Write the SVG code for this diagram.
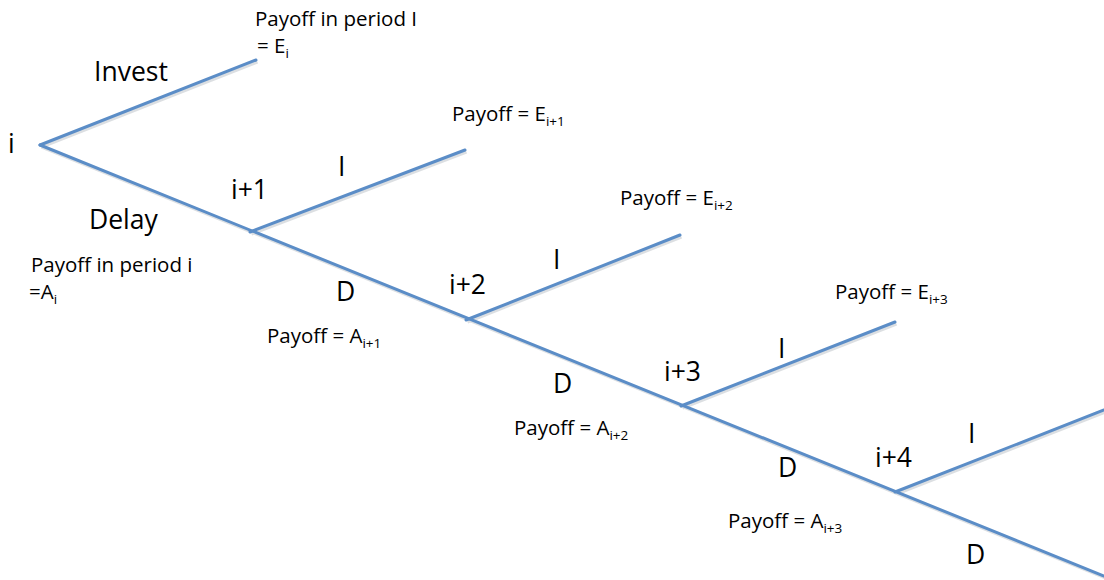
<svg xmlns="http://www.w3.org/2000/svg" width="1104" height="580" viewBox="0 0 1104 580">
<style>
.ln{stroke:#5b8dc7;stroke-width:3;fill:none;stroke-linecap:round}
.sh{stroke:#9aa3ad;stroke-width:3;fill:none;opacity:0.35}
text{font-family:"Open Sans","Liberation Sans",sans-serif;fill:#000}
.s{font-size:20.5px}
.b{font-size:26.5px}
.sub{font-size:13.5px}
</style>
<rect width="1104" height="580" fill="#fff"/>
<g id="connectors">
<g transform="translate(1.5,2)">
<path class="sh" d="M40 145 L256 60 M40 145 L1104 576 M250 232 L465 150 M466 320 L680 235 M681 406 L895 322 M895 492 L1104 410"/>
</g>
<path class="ln" d="M40 145 L256 60"/>
<path class="ln" d="M40 145 L1104 576"/>
<path class="ln" d="M250 232 L465 150"/>
<path class="ln" d="M466 320 L680 235"/>
<path class="ln" d="M681 406 L895 322"/>
<path class="ln" d="M895 492 L1104 410"/>
</g>
<g id="node-i">
<text class="b" x="8" y="153">i</text>
<text class="b" x="94" y="81">Invest</text>
<text class="s" x="255" y="26">Payoff in period I</text>
<text class="s" x="257" y="53">= E<tspan class="sub" dy="5">i</tspan></text>
<text class="b" x="89" y="229">Delay</text>
<text class="s" x="31" y="272">Payoff in period i</text>
<text class="s" x="29" y="299">=A<tspan class="sub" dy="5">i</tspan></text>
</g>
<g id="node-i1">
<text class="b" x="231" y="199">i+1</text>
<text class="b" x="338" y="176">I</text>
<text class="s" x="452" y="121">Payoff = E<tspan class="sub" dy="5">i+1</tspan></text>
<text class="b" x="336" y="301">D</text>
<text class="s" x="267" y="343">Payoff = A<tspan class="sub" dy="5">i+1</tspan></text>
</g>
<g id="node-i2">
<text class="b" x="449" y="294">i+2</text>
<text class="b" x="553" y="269">I</text>
<text class="s" x="620" y="205">Payoff = E<tspan class="sub" dy="5">i+2</tspan></text>
<text class="b" x="553" y="393">D</text>
<text class="s" x="514" y="435">Payoff = A<tspan class="sub" dy="5">i+2</tspan></text>
</g>
<g id="node-i3">
<text class="b" x="664" y="381">i+3</text>
<text class="b" x="778" y="358">I</text>
<text class="s" x="835" y="299">Payoff = E<tspan class="sub" dy="5">i+3</tspan></text>
<text class="b" x="778" y="477">D</text>
<text class="s" x="728" y="528">Payoff = A<tspan class="sub" dy="5">i+3</tspan></text>
</g>
<g id="node-i4">
<text class="b" x="875" y="467">i+4</text>
<text class="b" x="968" y="443">I</text>
<text class="b" x="966" y="564">D</text>
</g>
</svg>
